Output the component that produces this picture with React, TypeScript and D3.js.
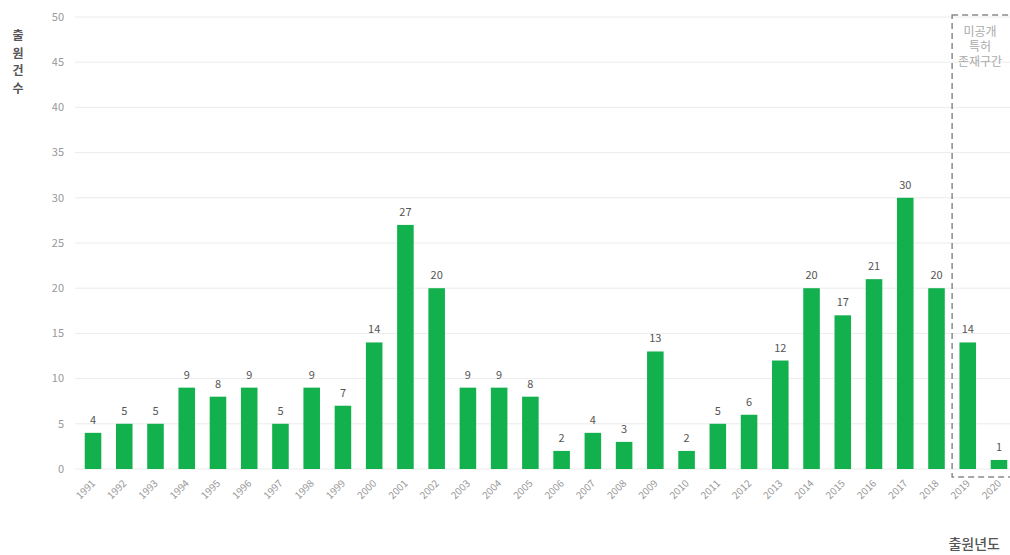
import React from "react";
import * as d3 from "d3";

// Patent filings per application year
const years = [
  "1991", "1992", "1993", "1994", "1995", "1996", "1997", "1998", "1999", "2000",
  "2001", "2002", "2003", "2004", "2005", "2006", "2007", "2008", "2009", "2010",
  "2011", "2012", "2013", "2014", "2015", "2016", "2017", "2018", "2019", "2020",
];
const counts = [
  4, 5, 5, 9, 8, 9, 5, 9, 7, 14,
  27, 20, 9, 9, 8, 2, 4, 3, 13, 2,
  5, 6, 12, 20, 17, 21, 30, 20, 14, 1,
];
const yTicks = [0, 5, 10, 15, 20, 25, 30, 35, 40, 45, 50];
// Years whose filings may still be unpublished
const unpublishedYears = ["2019", "2020"];

const W = 1010;
const H = 555;
const FONT = "'Noto Sans CJK KR', 'Noto Sans', sans-serif";
const BAR = "#12b14d";

export default function App() {
  const x = d3
    .scaleBand<string>()
    .domain(years)
    .range([77.4, 1014.6])
    .paddingInner(0.47)
    .paddingOuter(0.235);
  const y = d3.scaleLinear().domain([0, 50]).range([469, 17]);
  const gridX0 = 75;

  const firstHidden = x(unpublishedYears[0])!;
  const prev = x(years[years.indexOf(unpublishedYears[0]) - 1])! + x.bandwidth();
  const boxLeft = (firstHidden + prev) / 2;

  return (
    <svg
      width={W}
      height={H}
      style={{ position: "absolute", left: 0, top: 0, background: "#fff" }}
      fontFamily={FONT}
    >
      {/* grid + y tick labels */}
      {yTicks.map((t) => (
        <g key={t}>
          <line x1={gridX0} x2={W} y1={y(t)} y2={y(t)} stroke="#ececec" strokeWidth={1} />
          <text x={64} y={y(t)} dy="0.35em" textAnchor="end" fontSize={11} fill="#999">
            {t}
          </text>
        </g>
      ))}

      {/* bars */}
      {years.map((yr, i) => (
        <rect
          key={yr}
          x={x(yr)}
          y={y(counts[i])}
          width={x.bandwidth()}
          height={y(0) - y(counts[i])}
          fill={BAR}
        />
      ))}

      {/* value labels */}
      {years.map((yr, i) => (
        <text
          key={yr}
          x={x(yr)! + x.bandwidth() / 2}
          y={y(counts[i]) - 9}
          textAnchor="middle"
          fontSize={11}
          fill="#555"
        >
          {counts[i]}
        </text>
      ))}

      {/* x tick labels */}
      {years.map((yr) => {
        const cx = x(yr)! + x.bandwidth() / 2 + 3;
        const cy = 484;
        return (
          <text
            key={yr}
            transform={`translate(${cx},${cy}) rotate(-45)`}
            textAnchor="end"
            fontSize={10}
            fill="#999"
          >
            {yr}
          </text>
        );
      })}

      {/* unpublished-period box */}
      <rect
        x={boxLeft}
        y={15}
        width={W}
        height={477 - 15}
        fill="none"
        stroke="#8a8a8a"
        strokeWidth={1.5}
        strokeDasharray="6,4"
      />
      <text textAnchor="middle" fontSize={12} fill="#aaa">
        {["미공개", "특허", "존재구간"].map((s, i) => (
          <tspan key={s} x={980} y={36 + i * 15}>
            {s}
          </tspan>
        ))}
      </text>

      {/* axis titles */}
      <text textAnchor="middle" fontSize={12} fontWeight={700} fill="#555">
        {["출", "원", "건", "수"].map((c, i) => (
          <tspan key={i} x={18} y={40 + i * 17.6}>
            {c}
          </tspan>
        ))}
      </text>
      <text x={1000} y={549} textAnchor="end" fontSize={14} fontWeight={500} fill="#555">
        출원년도
      </text>
    </svg>
  );
}
